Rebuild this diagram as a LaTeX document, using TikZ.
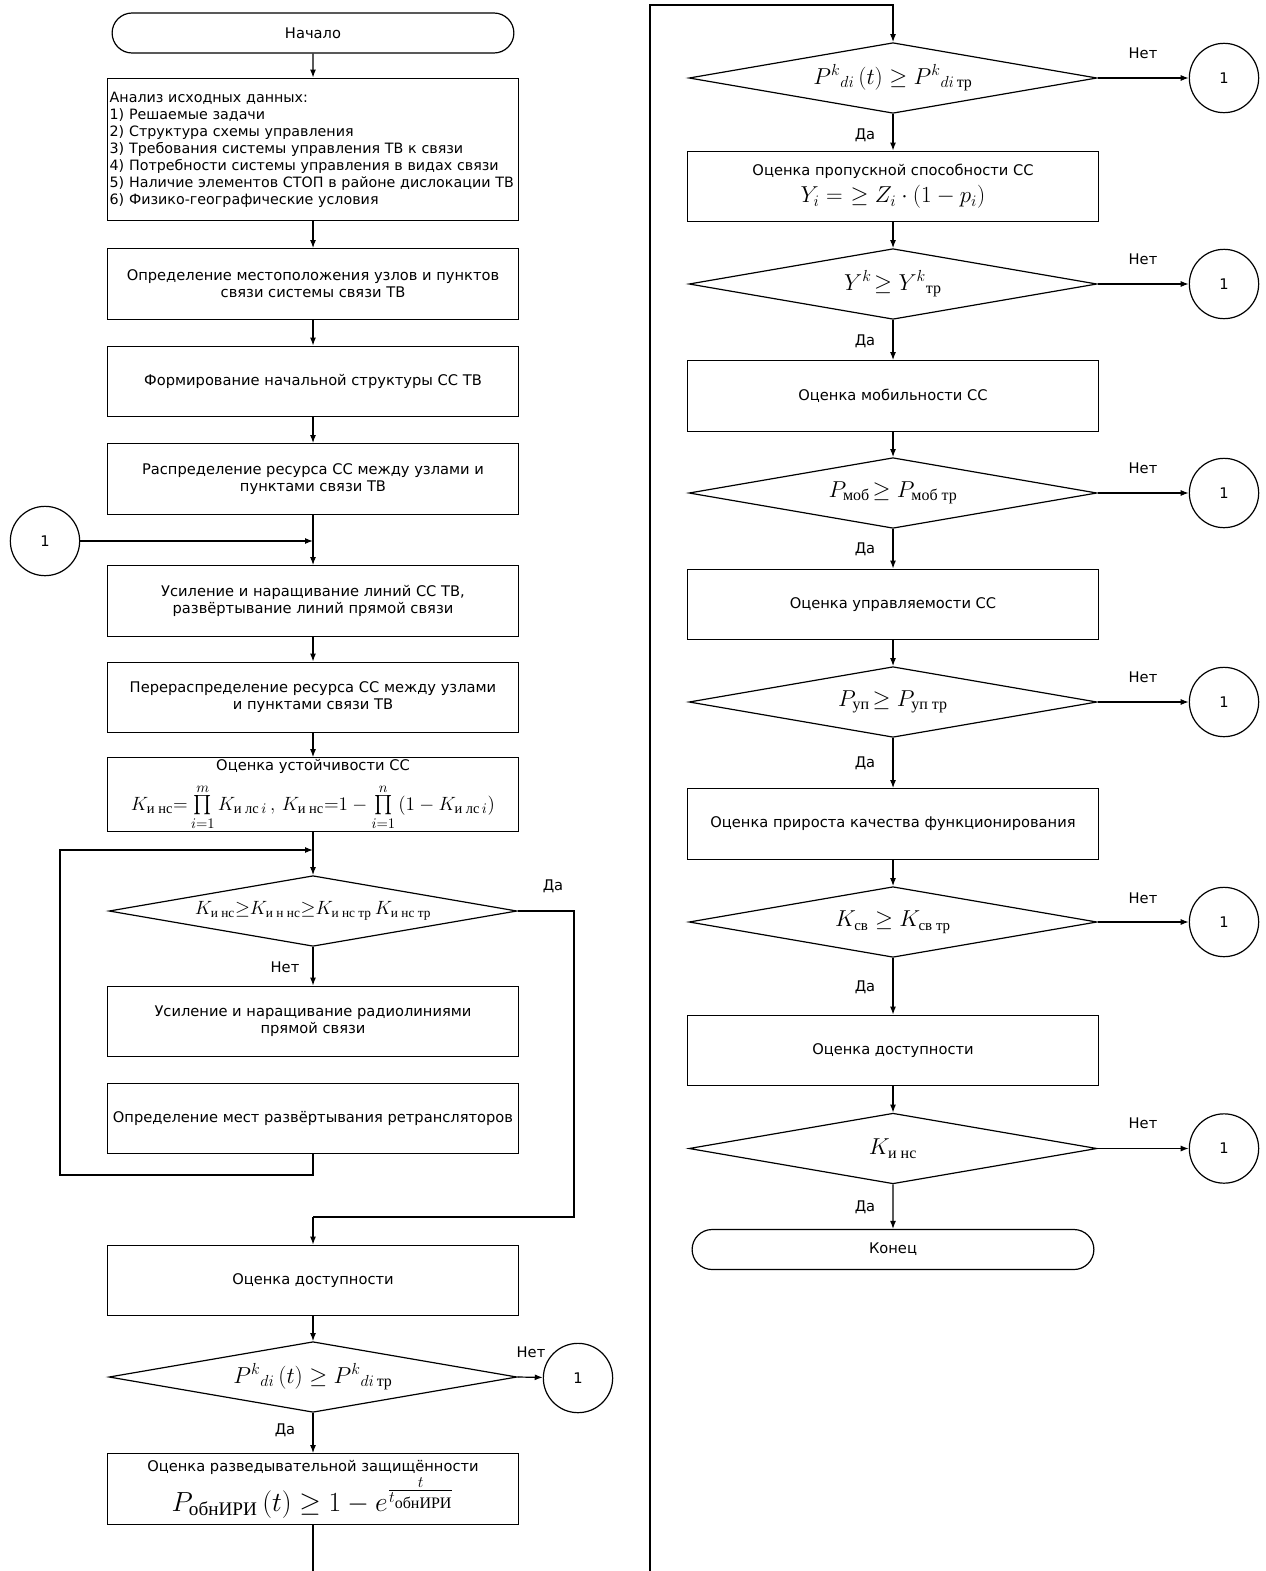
\documentclass[tikz,border=0pt]{standalone}
\usepackage{amsmath}
\usepackage{fontspec}
\setmainfont{DejaVu Sans}
\newfontfamily\cyrserif{Liberation Serif}
\newcommand{\cy}[1]{\text{\cyrserif #1}}
\usetikzlibrary{arrows.meta,shapes.geometric,shapes.misc}

\begin{document}
\begin{tikzpicture}[x=0.75pt, y=-0.75pt,
  lbl/.style={font=\fontsize{11}{12.75}\selectfont, inner sep=1pt},
  stepbox/.style={rectangle, draw, line width=0.9pt, minimum width=308pt, minimum height=53pt, align=center, font=\fontsize{11}{12.75}\selectfont},
  termbox/.style={rounded rectangle, draw, line width=0.9pt, minimum width=308pt, minimum height=30pt, font=\fontsize{11}{12.75}\selectfont},
  check/.style={diamond, draw, line width=0.9pt, aspect=5.8, inner sep=0pt, minimum width=306pt, minimum height=53pt},
  conn/.style={circle, draw, line width=0.9pt, minimum size=52pt, inner sep=0pt, font=\fontsize{11}{12.75}\selectfont},
  flow/.style={draw, line width=0.9pt, -{Latex[length=6pt,width=4.5pt]}},
  wire/.style={draw, line width=0.9pt}
]
\useasboundingbox (0,0) rectangle (1266,1571);

% left column
\node[termbox] (start) at (313,33) {Начало};
\node[stepbox, minimum height=107pt, text width=305pt, align=left, inner sep=1.5pt, font=\fontsize{10.7}{12.75}\selectfont] (anal) at (313,149.5) {Анализ исходных данных:\\
1) Решаемые задачи\\
2) Структура схемы управления\\
3) Требования системы управления ТВ к связи\\
4) Потребности системы управления в видах связи\\
5) Наличие элементов СТОП в районе дислокации ТВ\\
6) Физико-географические условия};
\node[stepbox] (loc) at (313,284) {Определение местоположения узлов и пунктов\\связи системы связи ТВ};
\node[stepbox] (form) at (313,381.5) {Формирование начальной структуры СС ТВ};
\node[stepbox] (distr) at (313,479) {Распределение ресурса СС между узлами и\\пунктами связи ТВ};
\node[conn] (back0) at (45,541) {1};
\coordinate (j1) at (313,541);
\node[stepbox] (incr) at (313,601) {Усиление и наращивание линий СС ТВ,\\развёртывание линий прямой связи};
\node[stepbox] (redistr) at (313,697.5) {Перераспределение ресурса СС между узлами\\и пунктами связи ТВ};
\node[stepbox, inner sep=1pt] (stab) at (313,794.5) {Оценка устойчивости СС\\[7pt]
{\fontsize{15.5}{17}\selectfont $K_{\cy{и нс}}{=}\prod\limits_{i=1}^{m} K_{\cy{и лс} \,i}\,,\,K_{\cy{и нс}}{=}1-\prod\limits_{i=1}^{n}\,(1-K_{\cy{и лс} \,i})$}};
\coordinate (j2) at (313,850);
\node[check] (chk1) at (313,911) {\Large $K_{\cy{и нс}}{\geq}K_{\cy{и н нс}}{\geq}K_{\cy{и нс тр}}\,K_{\cy{и нс тр}}$};
\node[stepbox] (radio) at (313,1021.5) {Усиление и наращивание радиолиниями\\прямой связи};
\node[stepbox] (retr) at (313,1118.5) {Определение мест развёртывания ретрансляторов};
\coordinate (loopa) at (60,1175);
\coordinate (yesa) at (574,1217);
\coordinate (yesb) at (313,1217);
\node[stepbox] (avail1) at (313,1280.5) {Оценка доступности};
\node[check] (chk2) at (313,1377) {\LARGE $P^{k}{}_{di}\,(t)\geq P^{k}{}_{di\,\cy{тр}}$};
\node[conn] (back1) at (578,1378) {1};
\node[stepbox] (intel) at (313,1489) {Оценка разведывательной защищённости\\[2pt]
{\huge $P_{\cy{обнИРИ}}\,(t)\geq 1-e^{\frac{t}{t_{\cy{обнИРИ}}}}$}};
\coordinate (brk1) at (313,1571);

\node[lbl] at (553,886) {Да};
\node[lbl] at (285,967) {Нет};
\node[lbl] at (531,1352) {Нет};
\node[lbl] at (285,1430) {Да};

\draw[flow] (start) -- (anal);
\draw[flow] (anal) -- (loc);
\draw[flow] (loc) -- (form);
\draw[flow] (form) -- (distr);
\draw[flow] (distr) -- (incr);
\draw[flow] (back0) -- (j1);
\draw[flow] (incr) -- (redistr);
\draw[flow] (redistr) -- (stab);
\draw[flow] (stab) -- (chk1);
\draw[flow] (chk1) -- (radio);
\draw[flow] (retr.south) |- (loopa) |- (j2);
\draw[wire] (chk1.east) -| (yesa) -- (yesb);
\draw[flow] (yesb) -- (avail1);
\draw[flow] (avail1) -- (chk2);
\draw[flow] (chk2.east) -- (back1);
\draw[flow] (chk2) -- (intel);
\draw[wire] (intel) -- (brk1);

% right column
\coordinate (brk2) at (650,1571);
\coordinate (topc) at (650,5);
\node[check] (rchk1) at (893,78) {\LARGE $P^{k}{}_{di}\,(t)\geq P^{k}{}_{di\,\cy{тр}}$};
\node[conn] (rback1) at (1224,78) {1};
\node[stepbox] (thru) at (893,186.5) {Оценка пропускной способности СС\\[4pt]
{\fontsize{18.5}{20}\selectfont $Y_i=\ \geq Z_i\cdot(1-p_i)$}};
\node[check] (rchk2) at (893,284) {\LARGE $Y^{k}\!\geq Y^{k}{}_{\cy{тр}}$};
\node[conn] (rback2) at (1224,284) {1};
\node[stepbox] (mob) at (893,396) {Оценка мобильности СС};
\node[check] (rchk3) at (893,493) {\LARGE $P_{\cy{моб}}\!\geq P_{\cy{моб тр}}$};
\node[conn] (rback3) at (1224,493) {1};
\node[stepbox] (ctrl) at (893,604.5) {Оценка управляемости СС};
\node[check] (rchk4) at (893,702) {\LARGE $P_{\cy{уп}}\!\geq P_{\cy{уп тр}}$};
\node[conn] (rback4) at (1224,702) {1};
\node[stepbox] (qual) at (893,824) {Оценка прироста качества функционирования};
\node[check] (rchk5) at (893,922) {\fontsize{16}{18}\selectfont $K_{\cy{св}}\geq K_{\cy{св тр}}$};
\node[conn] (rback5) at (1224,922) {1};
\node[stepbox] (avail2) at (893,1050.5) {Оценка доступности};
\node[check] (rchk6) at (893,1148.5) {\LARGE $K_{\cy{и нс}}$};
\node[conn] (rback6) at (1224,1148.5) {1};
\node[termbox] (finish) at (893,1249.5) {Конец};

\node[lbl] at (1143,53) {Нет};
\node[lbl] at (865,135) {Да};
\node[lbl] at (1143,259) {Нет};
\node[lbl] at (865,341) {Да};
\node[lbl] at (1143,468) {Нет};
\node[lbl] at (865,549) {Да};
\node[lbl] at (1143,677) {Нет};
\node[lbl] at (865,763) {Да};
\node[lbl] at (1143,898) {Нет};
\node[lbl] at (865,987) {Да};
\node[lbl] at (1143,1123) {Нет};
\node[lbl] at (865,1207) {Да};

\draw[flow] (brk2) -- (topc) -| (rchk1.north);
\draw[flow] (rchk1.east) -- (rback1);
\draw[flow] (rchk1) -- (thru);
\draw[flow] (thru) -- (rchk2);
\draw[flow] (rchk2.east) -- (rback2);
\draw[flow] (rchk2) -- (mob);
\draw[flow] (mob) -- (rchk3);
\draw[flow] (rchk3.east) -- (rback3);
\draw[flow] (rchk3) -- (ctrl);
\draw[flow] (ctrl) -- (rchk4);
\draw[flow] (rchk4.east) -- (rback4);
\draw[flow] (rchk4) -- (qual);
\draw[flow] (qual) -- (rchk5);
\draw[flow] (rchk5.east) -- (rback5);
\draw[flow] (rchk5) -- (avail2);
\draw[flow] (avail2) -- (rchk6);
\draw[flow] (rchk6.east) -- (rback6);
\draw[flow] (rchk6) -- (finish);

\end{tikzpicture}
\end{document}
